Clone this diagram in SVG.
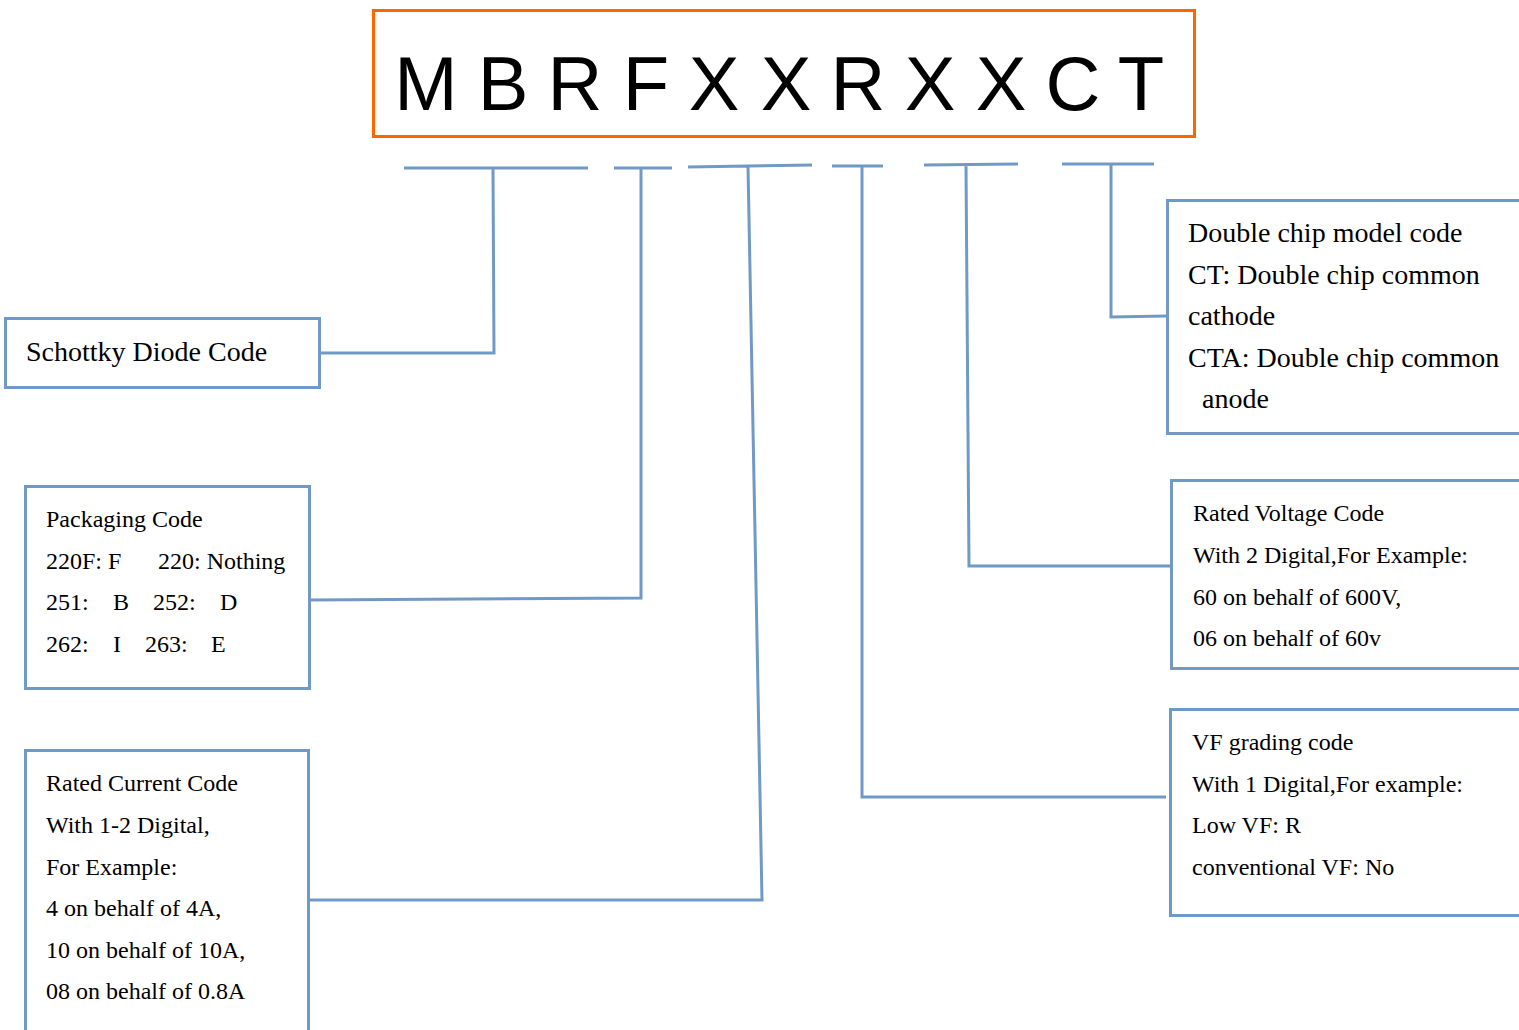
<svg xmlns="http://www.w3.org/2000/svg" width="1519" height="1030" viewBox="0 0 1519 1030">
<style>
.box{fill:#fff;stroke:#7199c5;stroke-width:3}
.ln{fill:none;stroke:#7199c5;stroke-width:3}
.t{font-family:'Liberation Serif','Times New Roman',Tinos,'DejaVu Serif',serif;fill:#000}
.s22{font-size:24px}
.s26{font-size:28px}
.big{font-family:'Liberation Sans',Arial,sans-serif;font-size:76px;fill:#000;text-anchor:middle}
</style>
<rect width="1519" height="1030" fill="#fff"/>
<g id="title">
<rect x="373.5" y="10.5" width="821" height="126" fill="#fff" stroke="#ff6600" stroke-width="3"/>
<text class="big" x="426" y="110">M</text>
<text class="big" x="503" y="110">B</text>
<text class="big" x="575" y="110">R</text>
<text class="big" x="646" y="110">F</text>
<text class="big" x="714" y="110">X</text>
<text class="big" x="786" y="110">X</text>
<text class="big" x="858" y="110">R</text>
<text class="big" x="930" y="110">X</text>
<text class="big" x="1001" y="110">X</text>
<text class="big" x="1073" y="110">C</text>
<text class="big" x="1141" y="110">T</text>
</g>
<g id="connectors">
<path class="ln" d="M404,168 H588 M493,168 L494,353 H320"/>
<path class="ln" d="M614,168 H672 M641,168 V598 L310,600"/>
<path class="ln" d="M688,167 L812,165 M748,166 L762,900 H309"/>
<path class="ln" d="M832,166 H883 M862,166 V797 H1166"/>
<path class="ln" d="M924,165 L1018,164 M966,165 L969,566 H1171"/>
<path class="ln" d="M1062,164 H1154 M1111,164 V317 L1167,316"/>
</g>
<g id="schottky">
<rect class="box" x="5.5" y="318.5" width="314" height="69"/>
<text class="t s26" x="26" y="361">Schottky Diode Code</text>
</g>
<g id="packaging">
<rect class="box" x="25.5" y="486.5" width="284" height="202"/>
<text class="t s22" x="46" y="527">Packaging Code</text>
<text class="t s22" x="46" y="569">220F: F<tspan x="158">220: Nothing</tspan></text>
<text class="t s22" x="46" y="610">251:<tspan x="113">B</tspan><tspan x="153">252:</tspan><tspan x="220">D</tspan></text>
<text class="t s22" x="46" y="652">262:<tspan x="113">I</tspan><tspan x="145">263:</tspan><tspan x="211">E</tspan></text>
</g>
<g id="current">
<rect class="box" x="25.5" y="750.5" width="283" height="290"/>
<text class="t s22" x="46" y="791">Rated Current Code</text>
<text class="t s22" x="46" y="833">With 1-2 Digital,</text>
<text class="t s22" x="46" y="875">For Example:</text>
<text class="t s22" x="46" y="916">4 on behalf of 4A,</text>
<text class="t s22" x="46" y="958">10 on behalf of 10A,</text>
<text class="t s22" x="46" y="999">08 on behalf of 0.8A</text>
</g>
<g id="doublechip">
<rect class="box" x="1167.5" y="200.5" width="360" height="233"/>
<text class="t s26" x="1188" y="242">Double chip model code</text>
<text class="t s26" x="1188" y="284">CT: Double chip common</text>
<text class="t s26" x="1188" y="325">cathode</text>
<text class="t s26" x="1188" y="367">CTA: Double chip common</text>
<text class="t s26" x="1202" y="408">anode</text>
</g>
<g id="voltage">
<rect class="box" x="1171.5" y="480.5" width="360" height="188"/>
<text class="t s22" x="1193" y="521">Rated Voltage Code</text>
<text class="t s22" x="1193" y="563">With 2 Digital,For Example:</text>
<text class="t s22" x="1193" y="605">60 on behalf of 600V,</text>
<text class="t s22" x="1193" y="646">06 on behalf of 60v</text>
</g>
<g id="vf">
<rect class="box" x="1170.5" y="709.5" width="360" height="206"/>
<text class="t s22" x="1192" y="750">VF grading code</text>
<text class="t s22" x="1192" y="792">With 1 Digital,For example:</text>
<text class="t s22" x="1192" y="833">Low VF: R</text>
<text class="t s22" x="1192" y="875">conventional VF: No</text>
</g>
</svg>
